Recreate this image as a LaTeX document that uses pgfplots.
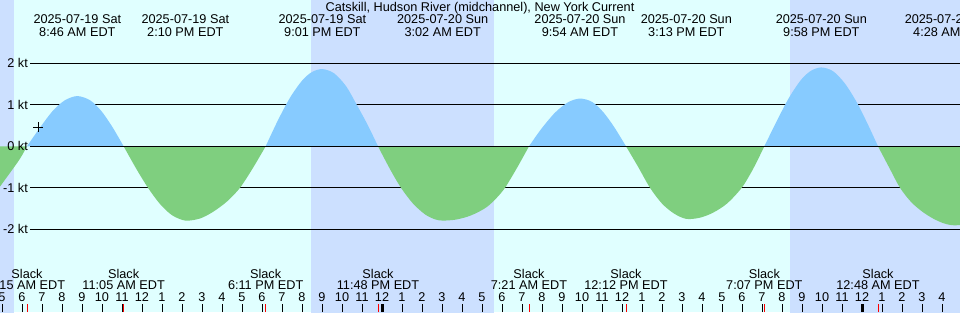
\documentclass[border=0pt]{standalone}
\usepackage{pgfplots}
\pgfplotsset{compat=1.18}
\usepackage{fontspec}
\setmainfont{Liberation Sans}
\definecolor{daybg}{HTML}{E0FFFF}
\definecolor{nightbg}{HTML}{CCE0FF}
\definecolor{flood}{HTML}{87CBFF}
\definecolor{ebb}{HTML}{7FCF7F}
\begin{document}
\begin{tikzpicture}[lab/.style={font=\fontsize{12.7}{13.4}\selectfont, inner sep=0pt, text=black}]
\begin{axis}[
  name=ax,
  width=960pt, height=312pt, scale only axis,
  xmin=4.9, xmax=52.9, ymin=-3.993, ymax=3.525,
  hide axis,
  axis background/.style={fill=daybg},
  clip=true,
]
% night bands
\addplot[fill=nightbg, draw=none] coordinates {(4.0,-5) (5.6,-5) (5.6,5) (4.0,5)} -- cycle;
\addplot[fill=nightbg, draw=none] coordinates {(20.45,-5) (29.6,-5) (29.6,5) (20.45,5)} -- cycle;
\addplot[fill=nightbg, draw=none] coordinates {(44.4,-5) (54,-5) (54,5) (44.4,5)} -- cycle;
% grid lines
\addplot[black, line width=1pt] coordinates {(6.4,2) (53,2)};
\addplot[black, line width=1pt] coordinates {(6.4,1) (53,1)};
\addplot[black, line width=1pt] coordinates {(6.4,-1) (53,-1)};
\addplot[black, line width=1pt] coordinates {(6.4,-2) (53,-2)};
% current lobes
\addplot[fill=ebb, draw=none, smooth] coordinates {(4.9,-0.97) (5.4,-0.64) (5.9,-0.30) (6.25,0)} \closedcycle;
\addplot[fill=flood, draw=none, smooth] coordinates {(6.25,0) (6.9,0.45) (7.55,0.86) (8.15,1.11) (8.767,1.21) (9.4,1.11) (9.95,0.86) (10.5,0.48) (11.083,0)} \closedcycle;
\addplot[fill=ebb, draw=none, smooth] coordinates {(11.083,0) (11.7,-0.53) (12.3,-1.0) (12.9,-1.39) (13.5,-1.66) (14.167,-1.79) (14.9,-1.74) (15.55,-1.58) (16.25,-1.33) (16.9,-1.0) (17.55,-0.52) (18.183,0)} \closedcycle;
\addplot[fill=flood, draw=none, smooth] coordinates {(18.183,0) (18.8,0.63) (19.4,1.17) (20.0,1.58) (20.5,1.79) (21.017,1.86) (21.6,1.76) (22.2,1.45) (22.75,0.99) (23.3,0.50) (23.8,0)} \closedcycle;
\addplot[fill=ebb, draw=none, smooth] coordinates {(23.8,0) (24.4,-0.55) (24.95,-1.0) (25.55,-1.38) (26.15,-1.64) (26.65,-1.76) (27.033,-1.79) (27.65,-1.77) (28.25,-1.70) (28.75,-1.60) (29.25,-1.46) (29.7,-1.26) (30.15,-1.0) (30.75,-0.52) (31.35,0)} \closedcycle;
\addplot[fill=flood, draw=none, smooth] coordinates {(31.35,0) (31.95,0.41) (32.65,0.81) (33.3,1.06) (33.9,1.15) (34.5,1.07) (35.05,0.83) (35.6,0.47) (36.2,0)} \closedcycle;
\addplot[fill=ebb, draw=none, smooth] coordinates {(36.2,0) (36.8,-0.49) (37.4,-1.0) (38.0,-1.38) (38.6,-1.62) (39.217,-1.75) (39.9,-1.72) (40.55,-1.6) (41.25,-1.38) (41.985,-1.0) (42.55,-0.55) (43.117,0)} \closedcycle;
\addplot[fill=flood, draw=none, smooth] coordinates {(43.117,0) (43.75,0.62) (44.35,1.17) (44.95,1.60) (45.45,1.82) (45.967,1.90) (46.55,1.81) (47.15,1.51) (47.75,1.05) (48.3,0.52) (48.8,0)} \closedcycle;
\addplot[fill=ebb, draw=none, smooth] coordinates {(48.8,0) (49.4,-0.55) (49.9,-1.0) (50.45,-1.34) (51.0,-1.57) (51.55,-1.74) (52.05,-1.85) (52.467,-1.90) (52.9,-1.90)} \closedcycle;
% zero line
\addplot[black, line width=1pt] coordinates {(6.4,0) (53,0)};
% current-time mark
\addplot[only marks, mark=+, mark size=5pt, black, line width=1pt] coordinates {(6.815,0.458)};
% y labels
\node[lab, anchor=base east, yshift=-4.5pt] at (axis cs:6.3,2) {2 kt};
\node[lab, anchor=base east, yshift=-4.5pt] at (axis cs:6.3,1) {1 kt};
\node[lab, anchor=base east, yshift=-4.5pt] at (axis cs:6.3,0) {0 kt};
\node[lab, anchor=base east, yshift=-4.5pt] at (axis cs:6.3,-1) {-1 kt};
\node[lab, anchor=base east, yshift=-4.5pt] at (axis cs:6.3,-2) {-2 kt};
% title
\node[lab, anchor=base] at (axis cs:28.9,3.236) {Catskill, Hudson River (midchannel), New York Current};
% extreme labels
\node[lab, anchor=base] at (axis cs:8.767,2.964) {2025-07-19 Sat};
\node[lab, anchor=base] at (axis cs:8.767,2.641) {8:46 AM EDT};
\node[lab, anchor=base] at (axis cs:14.167,2.964) {2025-07-19 Sat};
\node[lab, anchor=base] at (axis cs:14.167,2.641) {2:10 PM EDT};
\node[lab, anchor=base] at (axis cs:21.017,2.964) {2025-07-19 Sat};
\node[lab, anchor=base] at (axis cs:21.017,2.641) {9:01 PM EDT};
\node[lab, anchor=base] at (axis cs:27.033,2.964) {2025-07-20 Sun};
\node[lab, anchor=base] at (axis cs:27.033,2.641) {3:02 AM EDT};
\node[lab, anchor=base] at (axis cs:33.9,2.964) {2025-07-20 Sun};
\node[lab, anchor=base] at (axis cs:33.9,2.641) {9:54 AM EDT};
\node[lab, anchor=base] at (axis cs:39.217,2.964) {2025-07-20 Sun};
\node[lab, anchor=base] at (axis cs:39.217,2.641) {3:13 PM EDT};
\node[lab, anchor=base] at (axis cs:45.967,2.964) {2025-07-20 Sun};
\node[lab, anchor=base] at (axis cs:45.967,2.641) {9:58 PM EDT};
\node[lab, anchor=base] at (axis cs:52.467,2.964) {2025-07-21 Mon};
\node[lab, anchor=base] at (axis cs:52.467,2.641) {4:28 AM EDT};
% slack labels
\node[lab, anchor=base] at (axis cs:6.25,-3.181) {Slack};
\node[lab, anchor=base] at (axis cs:6.25,-3.446) {6:15 AM EDT};
\node[lab, anchor=base] at (axis cs:11.083,-3.181) {Slack};
\node[lab, anchor=base] at (axis cs:11.083,-3.446) {11:05 AM EDT};
\node[lab, anchor=base] at (axis cs:18.183,-3.181) {Slack};
\node[lab, anchor=base] at (axis cs:18.183,-3.446) {6:11 PM EDT};
\node[lab, anchor=base] at (axis cs:23.8,-3.181) {Slack};
\node[lab, anchor=base] at (axis cs:23.8,-3.446) {11:48 PM EDT};
\node[lab, anchor=base] at (axis cs:31.35,-3.181) {Slack};
\node[lab, anchor=base] at (axis cs:31.35,-3.446) {7:21 AM EDT};
\node[lab, anchor=base] at (axis cs:36.2,-3.181) {Slack};
\node[lab, anchor=base] at (axis cs:36.2,-3.446) {12:12 PM EDT};
\node[lab, anchor=base] at (axis cs:43.117,-3.181) {Slack};
\node[lab, anchor=base] at (axis cs:43.117,-3.446) {7:07 PM EDT};
\node[lab, anchor=base] at (axis cs:48.8,-3.181) {Slack};
\node[lab, anchor=base] at (axis cs:48.8,-3.446) {12:48 AM EDT};
% hour ticks and labels
\pgfplotsinvokeforeach{5,...,52}{
  \draw[black, line width=1pt] (axis cs:#1,-3.993) -- (axis cs:#1,-3.80);
  \node[lab, anchor=base] at (axis cs:#1,-3.745) {\pgfmathparse{int(mod(#1-1,12)+1)}\pgfmathresult};
}
\draw[black, line width=3pt] (axis cs:24,-3.993) -- (axis cs:24,-3.80);
\draw[black, line width=3pt] (axis cs:48,-3.993) -- (axis cs:48,-3.80);
\pgfplotsinvokeforeach{6.25,11.083,18.183,23.8,31.35,36.2,43.117,48.8}{
  \draw[red, line width=1pt] (axis cs:#1,-3.993) -- (axis cs:#1,-3.80);
}
\end{axis}
\pgfresetboundingbox
\path[use as bounding box] (ax.south west) rectangle (ax.north east);
\end{tikzpicture}
\end{document}
